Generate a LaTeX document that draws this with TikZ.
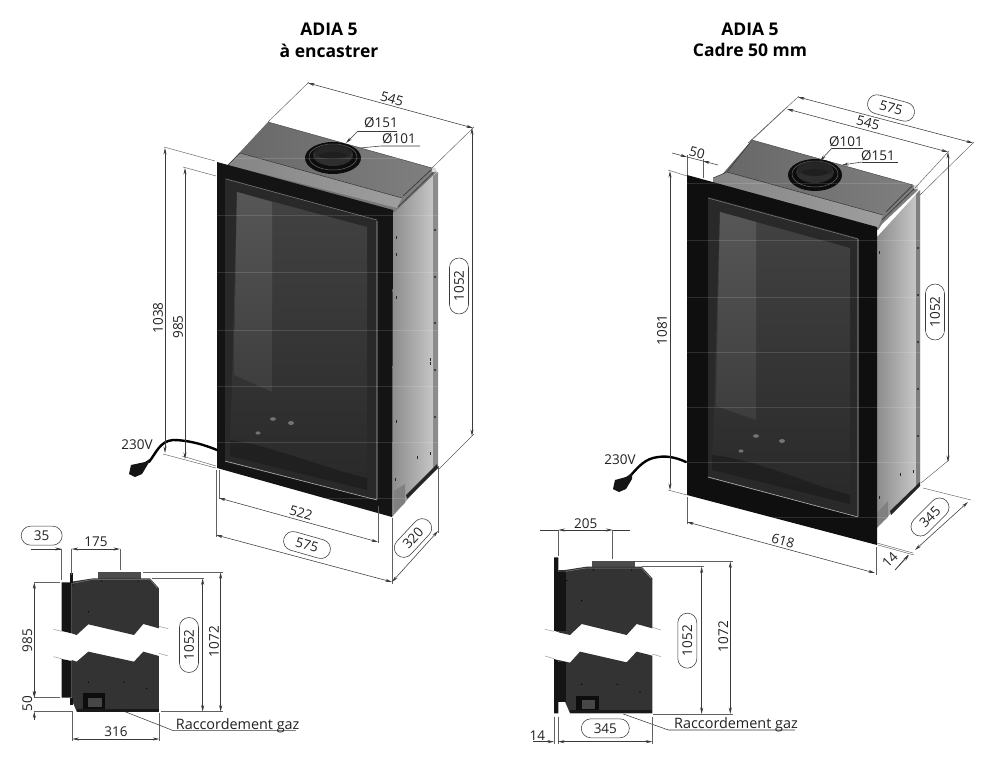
\documentclass[tikz,border=0pt]{standalone}
\usepackage{fontspec}
\setmainfont{Open Sans}
\usetikzlibrary{arrows.meta}
\definecolor{dimc}{HTML}{3A3A3A}
\definecolor{txtc}{HTML}{222222}
\tikzset{
 dimline/.style={draw=dimc,line width=.55pt},
 extline/.style={draw=dimc!80,line width=.45pt},
 arr/.style={dimline,{Stealth[length=6.5pt,width=3pt]}-{Stealth[length=6.5pt,width=3pt]}},
 arrend/.style={dimline,-{Stealth[length=6.5pt,width=3pt]}},
 lab/.style={text=txtc,font=\fontsize{13.5}{15}\selectfont,inner sep=0pt},
 longlab/.style={text=txtc,font=\fontsize{14.4}{16}\selectfont,inner sep=0pt},
 title/.style={text=black,font=\fontsize{17.5}{20}\bfseries\selectfont,inner sep=0pt},
 pill/.style={lab,draw=dimc,line width=.55pt,rounded corners=9.5pt,minimum width=#1,minimum height=19pt,fill=white},
 pill/.default=48pt,
 faint/.style={draw=white,opacity=.13,line width=.6pt},
 sidecut/.style={draw=gray!70,line width=.6pt},
 bolt/.style={fill=black},
}
\begin{document}
\begin{tikzpicture}[x=1pt,y=-1pt]
\useasboundingbox (0,0) rectangle (1000,765);
\fill[white] (0,0) rectangle (1000,765);

% ---------- titles
\node[title] (t1) at (329,29) {ADIA 5};
\node[title] (t2) at (329,51) {à encastrer};
\node[title] (t3) at (750,29) {ADIA 5};
\node[title] (t4) at (750,50) {Cadre 50 mm};

% ================= LEFT FIREPLACE =================
% top face
\shade[left color=black!60,right color=black!50]
 (268,122) -- (432,168) -- (437,172) -- (398,210) -- (393,214) -- (217,166) -- (228,165) -- cycle;
\shade[left color=black!48,right color=black!38] (228,165) -- (240,153) -- (402,198) -- (397,208) -- cycle;
\draw[black!80,line width=.5pt] (240,153) -- (402,198) (228,165) -- (240,153);
\draw[black!70,line width=.5pt] (268,122) -- (432,168);
% side panel
\shade[left color=black!45,right color=black!20] (393,214) -- (437,172) -- (438,465) -- (392,517) -- cycle;
\fill[black!45] (433,176) -- (438,172) -- (438,465) -- (433,470) -- cycle;
\draw[black!75,line width=.8pt] (398,207) -- (434,172) (403,196) -- (433,168);
\fill[black!15] (434,170) circle (2.4);
\fill[black!50] (394,491) -- (405,484) -- (405,503) -- (394,513) -- cycle;
\fill[black!85] (406,495) -- (437,464) -- (438,468) -- (407,499) -- cycle;
\foreach \yy/\xx in {236/396,253/396,358/430,362/430,296/396,420/396,456/417,452/430,478/395}{\fill[black!85] (\xx,\yy) rectangle +(1.4,3);}
\foreach \yy in {230,277,323,370,417}{\fill[black!85] (435,\yy) circle (1.1);}
% frame
\fill[black!92] (217,162) -- (393,210) -- (392,517) -- (217,468) -- cycle;
% door
\fill[black!84] (225,178) -- (377,220) -- (377,500) -- (225,462) -- cycle;
% glass
\shade[top color=black!74,bottom color=black!84] (237,192) -- (367,227) -- (367,490) -- (230,456) -- cycle;
\shade[top color=black!66,bottom color=black!76] (237,192) -- (272,202) -- (272,392) -- (234,375) -- cycle;
\fill[black!90,opacity=.6] (230,440) .. controls (270,445) and (330,470) .. (367,478) -- (367,490) -- (230,456) -- cycle;
\draw[black!30,line width=.6pt] (377,221) -- (377,499) (225,461) -- (377,500);
\draw[black!50,line width=.5pt] (226,179) -- (377,220);
\fill[black!55] (273,419) ellipse (3 and 1.8) (258,433) ellipse (2.5 and 1.6) (291,423) ellipse (3 and 2);
% flue
\fill[black!95] (333,158) ellipse (28 and 16);
\draw[black!60,line width=.5pt] (333,157) ellipse (24 and 13);
\fill[black!82] (333,155) ellipse (20 and 11);
\fill[black!88] (333,152) ellipse (18 and 7);
\shade[left color=black!85,middle color=black!35,right color=black!85] (316,152) arc (180:360:17 and 6.5) -- (350,158) arc (0:-180:17 and 6) -- cycle;
% faint lines
\foreach \yy in {158,215,272,330,386,442,498}{\draw[faint] (217,\yy) -- (440,\yy);}
% cable
\draw[black,line width=2.4pt,line cap=round] (217,450) .. controls (200,443) and (185,440) .. (173,440) .. controls (160,441) and (156,453) .. (149,462);
\fill[black!92] (151,458) -- (145,462) -- (131,465) -- (129,474) -- (135,477) -- (142,474) -- (148,464) -- cycle;
\node[lab] (v1) at (137,445) {230V};

% dimensions left
\draw[extline] (268,122) -- (309,82) (432,168) -- (474,127);
\draw[arr] (308,83) -- (473,128);
\node[lab,rotate=-16] (a1) at (392,99) {545};
\draw[dimline] (397,131) -- (358,131);
\draw[arrend] (358,131) -- (346,143);
\draw[dimline] (420,146) -- (381,146) -- (360,148);
\node[lab] (a2) at (381,123) {Ø151};
\node[lab] (a3) at (399,139) {Ø101};
\draw[extline] (164,147) -- (215,161) (183,167) -- (216,176) (163,454) -- (216,468) (182,456) -- (216,466);
\draw[arr] (165,148) -- (165,453);
\draw[arr] (185,168) -- (185,459);
\node[lab,rotate=90] (a4) at (158,318) {1038};
\node[lab,rotate=90] (a5) at (178,327) {985};
\draw[extline] (438,470) -- (474,434);
\draw[arr] (472,128) -- (472,436);
\node[pill=56pt,rotate=90] (a6) at (459,286) {1052};
\draw[extline] (219,470) -- (219,499) (378,506) -- (378,543) (216,470) -- (216,537) (392,518) -- (392,584);
\draw[arr] (219,498) -- (378,542);
\node[lab,rotate=-16] (a7) at (301,513) {522};
\draw[arr] (216,535) -- (392,582);
\node[pill,rotate=-16] (a8) at (307,545) {575};
\draw[extline] (438,466) -- (438,533);
\draw[arr] (392,582) -- (438,531);
\node[pill=46pt,rotate=47] (a9) at (413,538) {320};

% ================= RIGHT FIREPLACE =================
\shade[left color=black!60,right color=black!50]
 (752,140) -- (913,185) -- (918,190) -- (882,224) -- (878,230) -- (713,185) -- cycle;
\shade[left color=black!48,right color=black!38] (713,178) -- (727,172) -- (883,215) -- (878,228) -- (713,184) -- cycle;
\draw[black!80,line width=.5pt] (727,172) -- (883,215) (713,178) -- (727,172) (727,172) -- (752,140);
\draw[black!70,line width=.5pt] (752,140) -- (913,185);
% side
\shade[left color=black!45,right color=black!20] (877,237) -- (920,190) -- (920,483) -- (877,528) -- cycle;
\fill[black!50] (916,194) -- (920,190) -- (920,483) -- (916,487) -- cycle;
\draw[black!75,line width=.8pt] (882,220) -- (915,188) (886,212) -- (912,186);
\fill[black!15] (916,187) circle (2.4);
\fill[black!50] (877,513) -- (888,501) -- (888,517) -- (877,527) -- cycle;
\fill[black!85] (890,511) -- (920,482) -- (920,486) -- (891,515) -- cycle;
\foreach \yy/\xx in {251/879,473/900,470/913,496/879}{\fill[black!85] (\xx,\yy) rectangle +(1.4,3);}
\foreach \yy in {248,295,342,389,436}{\fill[black!85] (918,\yy) circle (1.1);}
% frame
\fill[black!94] (687,175) -- (877,227) -- (877,545) -- (687,495) -- cycle;
% door
\fill[black!84] (708,197) -- (858,238) -- (858,517) -- (708,478) -- cycle;
\shade[top color=black!74,bottom color=black!84] (720,212) -- (850,248) -- (850,504) -- (712,470) -- cycle;
\shade[top color=black!66,bottom color=black!76] (720,212) -- (756,222) -- (756,420) -- (716,406) -- cycle;
\fill[black!90,opacity=.6] (712,455) .. controls (760,460) and (810,485) .. (850,495) -- (850,504) -- (712,470) -- cycle;
\draw[black!30,line width=.6pt] (858,239) -- (858,516) (708,477) -- (858,517);
\draw[black!50,line width=.5pt] (708,198) -- (858,239);
\fill[black!55] (756,436) ellipse (3 and 1.8) (741,451) ellipse (2.5 and 1.6) (782,441) ellipse (3 and 2);
% flue
\fill[black!95] (815,175) ellipse (27 and 16);
\draw[black!60,line width=.5pt] (815,174) ellipse (23 and 13);
\fill[black!82] (815,172) ellipse (19 and 11);
\fill[black!88] (815,169) ellipse (17 and 7);
\shade[left color=black!85,middle color=black!35,right color=black!85] (798,169) arc (180:360:17 and 6.5) -- (832,175) arc (0:-180:17 and 6) -- cycle;
% faint lines
\foreach \yy in {183,240,297,352,407,462,517}{\draw[faint] (687,\yy) -- (920,\yy);}
% cable
\draw[black,line width=2.4pt,line cap=round] (686,462) .. controls (675,457) and (665,455) .. (653,458) .. controls (642,461) and (636,470) .. (630,476);
\fill[black!92] (632,473) -- (626,477) -- (615,480) -- (613,489) -- (619,492) -- (626,489) -- (632,479) -- cycle;
\node[lab] (v2) at (620,460) {230V};

% dimensions right
\draw[extline] (752,140) -- (799,96) (920,195) -- (974,142);
\draw[arr] (798,97) -- (973,143);
\node[pill,rotate=-15] (b1) at (891,108) {575};
\draw[extline] (748,143) -- (787,107) (915,188) -- (949,151);
\draw[arr] (787,109) -- (948,152);
\node[lab,rotate=-15] (b2) at (868,123) {545};
\draw[dimline] (863,148) -- (832,148);
\draw[arrend] (832,148) -- (820,161);
\node[lab] (b3) at (846,142) {Ø101};
\draw[dimline] (898,162) -- (862,162);
\draw[arrend] (862,162) -- (842,165);
\node[lab] (b4) at (878,156) {Ø151};
\draw[extline] (687,175) -- (687,155) (703,178) -- (703,159);
\draw[arrend] (672,153) -- (687,157);
\draw[arrend] (718,165) -- (703,161);
\draw[dimline] (687,157) -- (703,161);
\node[lab,rotate=-15] (b5) at (697,153) {50};
\draw[extline] (668,170) -- (687,176) (668,490) -- (687,495);
\draw[arr] (670,171) -- (670,490);
\node[lab,rotate=90] (b6) at (662,330) {1081};
\draw[extline] (921,483) -- (949,460);
\draw[arr] (948,152) -- (948,462);
\node[pill=56pt,rotate=90] (b7) at (935,312) {1052};
\draw[extline] (687,497) -- (687,524) (876,547) -- (876,575);
\draw[arr] (687,522) -- (875,573);
\node[lab,rotate=-16] (b8) at (783,541) {618};
\draw[extline] (923,488) -- (971,500);
\draw[extline] (878,545) -- (914,555) (877,543) -- (913,553);
\draw[arr] (915,550) -- (968,502);
\node[pill=46pt,rotate=45] (b9) at (930,517) {345};
\draw[dimline] (908,555) -- (895,570);
\draw[arrend] (895,570) -- (909,555);
\node[lab,rotate=45] (b10) at (890,560) {14};

% ================= LEFT SIDE VIEW =================
\begin{scope}[shift={(10,520)},x=.3333pt,y=-.3333pt]
\fill[black!70] (265,157) rectangle (393,176);
\fill[black!80] (185,185) -- (250,175) -- (420,175) -- (447,205) -- (447,325) -- (400,312) -- (372,345) -- (235,313) -- (200,345) -- (185,340) -- cycle;
\fill[black!80] (185,420) -- (200,425) -- (235,395) -- (372,425) -- (400,395) -- (447,408) -- (447,575) -- (200,575) -- (190,550) -- (185,550) -- cycle;
\fill[black!92] (155,187) -- (185,187) -- (185,340) -- (155,333) -- cycle;
\fill[black!92] (155,417) -- (185,423) -- (185,533) -- (155,533) -- cycle;
\fill[black!92] (181,160) rectangle (188,190);
\fill[black!92] (181,533) rectangle (188,555);
\fill[black!95] (218,520) rectangle (285,570);
\fill[black!72] (235,535) rectangle (275,560);
\fill[black!90] (200,566) rectangle (447,575);
\foreach \p in {(235,275),(235,487),(342,487),(410,505),(275,183),(385,183),(190,195)}{\fill[bolt] \p circle (2);}
\draw[sidecut] (130,328) -- (155,334) (447,319) -- (475,326) (130,410) -- (155,416) (447,400) -- (475,408);
\draw[black!50,line width=.5pt] (188,190) -- (250,178) -- (420,178) -- (443,205);

\draw[dimline] (62,87) -- (155,87);
\draw[arrend] (120,87) -- (155,87);
\draw[arr] (185,87) -- (330,87);
\draw[extline] (155,87) -- (155,180) (185,87) -- (185,165) (330,87) -- (330,150);
\node[pill=41pt] (c1) at (95,47) {35};
\node[lab] (c2) at (258,65) {175};
\draw[extline] (73,187) -- (150,187) (73,533) -- (150,533) (73,575) -- (190,575);
\draw[arr] (73,187) -- (73,533);
\node[lab,rotate=90] (c3) at (52,362) {985};
\draw[arrend] (73,505) -- (73,533);
\draw[arrend] (73,600) -- (73,575);
\node[lab,rotate=90] (c4) at (52,552) {50};
\draw[extline] (425,175) -- (583,175) (400,157) -- (640,157) (453,575) -- (640,575);
\draw[arr] (578,175) -- (578,575);
\draw[arr] (632,157) -- (632,575);
\node[pill=55pt,rotate=90] (c5) at (537,375) {1052};
\node[lab,rotate=90] (c6) at (612,365) {1072};
\draw[extline] (187,575) -- (187,662) (448,580) -- (448,662);
\draw[arr] (187,657) -- (448,657);
\node[lab] (c7) at (318,635) {316};
\draw[dimline] (345,575) -- (490,632) -- (858,632);
\node[longlab,anchor=base west] (c8) at (497,628) {Raccordement gaz};
\end{scope}

% ================= RIGHT SIDE VIEW =================
\begin{scope}[shift={(520,510)},x=.3333pt,y=-.3333pt]
\fill[black!70] (215,154) rectangle (345,172);
\fill[black!80] (135,180) -- (200,170) -- (365,170) -- (397,205) -- (397,355) -- (350,342) -- (320,375) -- (185,342) -- (150,375) -- (115,367) -- (115,180) -- cycle;
\fill[black!80] (115,450) -- (150,458) -- (180,425) -- (320,457) -- (350,425) -- (397,437) -- (397,610) -- (150,610) -- (135,575) -- (115,575) -- cycle;
\fill[black!92] (102,142) -- (115,142) -- (115,366) -- (102,362) -- cycle;
\fill[black!92] (102,447) -- (115,451) -- (115,610) -- (102,610) -- cycle;
\fill[black!92] (115,185) rectangle (137,362);
\fill[black!92] (115,455) rectangle (137,575);
\fill[black!95] (167,558) rectangle (236,605);
\fill[black!72] (185,570) rectangle (225,598);
\fill[black!90] (150,601) rectangle (397,610);
\foreach \p in {(185,272),(185,523),(292,523),(360,545),(220,180),(335,180),(140,212)}{\fill[bolt] \p circle (2);}
\draw[sidecut] (75,358) -- (102,364) (397,352) -- (423,360) (75,438) -- (102,446) (397,432) -- (423,440);
\draw[black!50,line width=.5pt] (137,184) -- (200,174) -- (365,174) -- (393,205);

\draw[arr] (115,60) -- (278,60);
\draw[dimline] (60,60) -- (115,60) (278,60) -- (330,60);
\draw[extline] (115,60) -- (115,138) (278,60) -- (278,148);
\node[lab] (d1) at (197,40) {205};
\draw[extline] (345,155) -- (638,155) (365,170) -- (552,170) (400,612) -- (638,612);
\draw[arr] (631,155) -- (631,612);
\draw[arr] (545,170) -- (545,612);
\node[lab,rotate=90] (d2) at (610,380) {1072};
\node[pill=55pt,rotate=90] (d3) at (502,392) {1052};
\draw[dimline] (310,612) -- (445,660) -- (825,660);
\node[longlab,anchor=base west] (d4) at (462,656) {Raccordement gaz};
\draw[extline] (397,620) -- (397,702) (114,620) -- (114,702) (102,620) -- (102,702);
\draw[arr] (114,695) -- (397,695);
\draw[arrend] (40,695) -- (102,695);
\node[pill=48pt] (d5) at (256,655) {345};
\node[lab] (d6) at (52,676) {14};
\end{scope}
\end{tikzpicture}
\end{document}
